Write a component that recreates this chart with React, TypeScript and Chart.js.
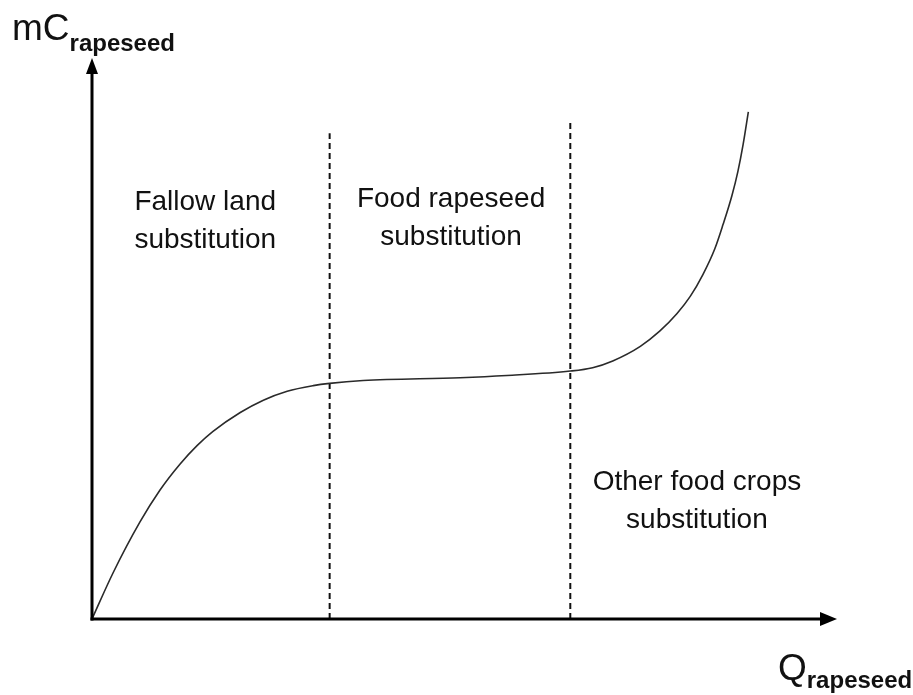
import React, { useEffect, useRef } from 'react';
import { Chart, registerables } from 'chart.js';

Chart.register(...registerables);

// Marginal cost curve (quantity 0-100, cost 0-100)
const curveX = [0, 2.82, 6.44, 9.13, 11.8, 14.1, 16.2, 19.9, 23.0, 26.2, 29.7, 31.9, 36.4, 49.4, 55.7, 64.2, 67.2, 69.9, 73.6, 76.2, 78.5, 80.3, 82.0, 83.6, 84.7, 85.9, 86.7, 87.4, 88.1];
const curveY = [0, 8.2, 17.3, 23.0, 27.6, 30.9, 33.4, 36.8, 39.0, 40.6, 41.6, 42.0, 42.5, 43.0, 43.4, 44.2, 44.8, 46.0, 48.6, 51.3, 54.4, 57.5, 61.4, 66.0, 70.3, 75.5, 79.8, 84.6, 90.4];

// Region boundaries (dashed verticals)
const dividerX = [31.9, 64.2];
const dividerTop = [86.6, 88.6];

// Region labels
const regionLabels = [
  ['Fallow land', 'substitution'],
  ['Food rapeseed', 'substitution'],
  ['Other food crops', 'substitution'],
];
const regionLabelX = [15.2, 48.2, 81.2];
const regionLabelY = [72.9, 73.4, 23.0];

const yTitle = ['mC', 'rapeseed'];
const xTitle = ['Q', 'rapeseed'];

const FONT = '"Liberation Sans", Arial, sans-serif';

const decorPlugin = {
  id: 'decor',
  afterDatasetsDraw(chart: any) {
    const ctx = chart.ctx as CanvasRenderingContext2D;
    const xs = chart.scales.x;
    const ys = chart.scales.y;
    const ox = xs.getPixelForValue(0);
    const oy = ys.getPixelForValue(0);
    const xEnd = xs.getPixelForValue(100);
    const yEnd = ys.getPixelForValue(100);
    ctx.save();
    ctx.strokeStyle = '#000';
    ctx.fillStyle = '#000';
    ctx.lineWidth = 3;
    ctx.setLineDash([]);
    // y axis
    ctx.beginPath();
    ctx.moveTo(ox, oy + 1.5);
    ctx.lineTo(ox, yEnd + 12);
    ctx.stroke();
    ctx.beginPath();
    ctx.moveTo(ox, yEnd);
    ctx.lineTo(ox - 6, yEnd + 16);
    ctx.lineTo(ox + 6, yEnd + 16);
    ctx.closePath();
    ctx.fill();
    // x axis
    ctx.beginPath();
    ctx.moveTo(ox - 1.5, oy);
    ctx.lineTo(xEnd - 12, oy);
    ctx.stroke();
    ctx.beginPath();
    ctx.moveTo(xEnd, oy);
    ctx.lineTo(xEnd - 17, oy - 7);
    ctx.lineTo(xEnd - 17, oy + 7);
    ctx.closePath();
    ctx.fill();

    // region labels
    ctx.fillStyle = '#111';
    ctx.font = `28px ${FONT}`;
    ctx.textAlign = 'center';
    ctx.textBaseline = 'alphabetic';
    regionLabels.forEach((lines, i) => {
      const cx = xs.getPixelForValue(regionLabelX[i]);
      const by = ys.getPixelForValue(regionLabelY[i]);
      lines.forEach((t, j) => ctx.fillText(t, cx, by + j * 38));
    });

    // axis titles
    ctx.textAlign = 'left';
    ctx.font = `37px ${FONT}`;
    const mx = ox - 80;
    const my = yEnd - 18;
    ctx.fillText(yTitle[0], mx, my);
    const mw = ctx.measureText(yTitle[0]).width;
    ctx.font = `bold 24px ${FONT}`;
    ctx.fillText(yTitle[1], mx + mw, my + 11);

    ctx.font = `37px ${FONT}`;
    const qx = xEnd - 59;
    const qy = oy + 61;
    ctx.fillText(xTitle[0], qx, qy);
    const qw = ctx.measureText(xTitle[0]).width;
    ctx.font = `bold 24px ${FONT}`;
    ctx.fillText(xTitle[1], qx + qw, qy + 8);
    ctx.restore();
  },
};

export default function App() {
  const ref = useRef<HTMLCanvasElement | null>(null);
  useEffect(() => {
    if (!ref.current) return;
    const curve = curveX.map((x, i) => ({ x, y: curveY[i] }));
    const dividers = dividerX.map((x, i) => ({
      type: 'scatter' as const,
      data: [{ x, y: 0 }, { x, y: dividerTop[i] }],
      showLine: true,
      borderColor: '#111',
      borderWidth: 2,
      borderDash: [6, 4],
      pointRadius: 0,
      tension: 0,
      clip: false as any,
    }));
    const chart = new Chart(ref.current, {
      type: 'scatter',
      data: {
        datasets: [
          {
            data: curve,
            showLine: true,
            borderColor: '#2a2a2a',
            borderWidth: 1.6,
            pointRadius: 0,
            cubicInterpolationMode: 'monotone',
            clip: false as any,
          } as any,
          ...dividers,
        ],
      },
      options: {
        animation: false,
        responsive: false,
        events: [],
        layout: { padding: { left: 92, right: 76, top: 58, bottom: 76 } },
        plugins: { legend: { display: false }, tooltip: { enabled: false } },
        scales: {
          x: { type: 'linear', min: 0, max: 100, display: false },
          y: { type: 'linear', min: 0, max: 100, display: false },
        },
      },
      plugins: [decorPlugin],
    });
    return () => chart.destroy();
  }, []);
  return (
    <div style={{ position: 'absolute', left: 0, top: 0, width: 913, height: 695, background: '#fff' }}>
      <canvas ref={ref} width={913} height={695} style={{ display: 'block' }} />
    </div>
  );
}
